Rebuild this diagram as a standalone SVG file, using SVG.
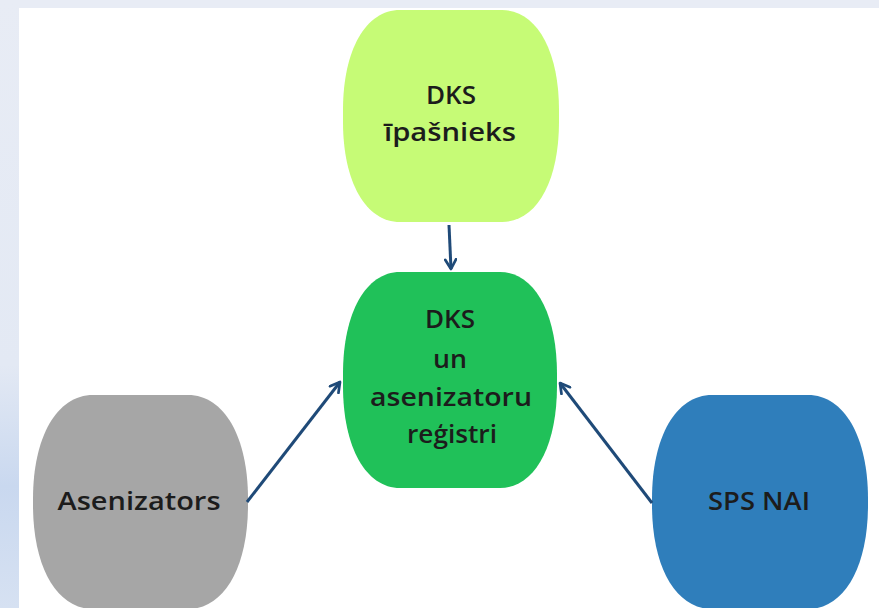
<svg xmlns="http://www.w3.org/2000/svg" width="879" height="608" viewBox="0 0 879 608">
  <defs>
    <linearGradient id="side" x1="0" y1="0" x2="0" y2="1">
      <stop offset="0" stop-color="#e8ecf5"/>
      <stop offset="0.6" stop-color="#e3e9f4"/>
      <stop offset="0.8" stop-color="#c9d8ef"/>
      <stop offset="1" stop-color="#d6e1f2"/>
    </linearGradient>
    <marker id="arr" viewBox="0 0 10 10" refX="8" refY="5" markerWidth="4.5" markerHeight="4.5" orient="auto" markerUnits="strokeWidth">
      <path d="M1,1 L8,5 L1,9" fill="none" stroke="#1f4a78" stroke-width="2" stroke-linecap="round" stroke-linejoin="round"/>
    </marker>
  </defs>
  <style>
    .lbl { font-family: "Open Sans", "Liberation Sans", sans-serif; font-size: 25px; font-weight: 600; fill: #1c1c1c; text-anchor: middle; }
    .conn { fill: none; stroke: #1f4a78; stroke-width: 3; marker-end: url(#arr); }
  </style>
  <rect x="0" y="0" width="879" height="608" fill="#e8ecf5"/>
  <rect x="0" y="0" width="20" height="608" fill="url(#side)"/>
  <rect x="19" y="8" width="860" height="600" fill="#ffffff"/>

  <g id="node-owner">
    <path d="M400,10 L502,10 C536.2,10 559,50 559,110 L559,122 C559,182 536.2,222 502,222 L400,222 C365.8,222 343,182 343,122 L343,110 C343,50 365.8,10 400,10 Z" fill="#c6fb76"/>
    <text class="lbl" x="451" y="104" textLength="50" lengthAdjust="spacingAndGlyphs">DKS</text>
    <text class="lbl" x="450" y="141" textLength="132" lengthAdjust="spacingAndGlyphs">īpašnieks</text>
  </g>

  <g id="node-registry">
    <path d="M400,272 L500,272 C534.2,272 557,312.8 557,374 L557,386 C557,447.2 534.2,488 500,488 L400,488 C365.8,488 343,447.2 343,386 L343,374 C343,312.8 365.8,272 400,272 Z" fill="#20c159"/>
    <text class="lbl" x="450" y="328" textLength="50" lengthAdjust="spacingAndGlyphs">DKS</text>
    <text class="lbl" x="450" y="368" textLength="34" lengthAdjust="spacingAndGlyphs">un</text>
    <text class="lbl" x="451" y="406" textLength="162" lengthAdjust="spacingAndGlyphs">asenizatoru</text>
    <text class="lbl" x="452" y="443" textLength="90" lengthAdjust="spacingAndGlyphs">reģistri</text>
  </g>

  <g id="node-asenizators">
    <path d="M93,395 L188,395 C224,395 248,436.6 248,499 L248,505 C248,567.4 224,609 188,609 L93,609 C57,609 33,567.4 33,505 L33,499 C33,436.6 57,395 93,395 Z" fill="#a6a6a6"/>
    <text class="lbl" x="139" y="510" textLength="163" lengthAdjust="spacingAndGlyphs">Asenizators</text>
  </g>

  <g id="node-sps">
    <path d="M712,395 L808,395 C844,395 868,436.6 868,499 L868,505 C868,567.4 844,609 808,609 L712,609 C676,609 652,567.4 652,505 L652,499 C652,436.6 676,395 712,395 Z" fill="#2f7ebb"/>
    <text class="lbl" x="759" y="510" textLength="102" lengthAdjust="spacingAndGlyphs">SPS NAI</text>
  </g>

  <g id="connectors">
    <line class="conn" x1="449" y1="225" x2="451" y2="269"/>
    <line class="conn" x1="247" y1="502" x2="340" y2="382"/>
    <line class="conn" x1="652" y1="503" x2="560" y2="383"/>
  </g>
</svg>
